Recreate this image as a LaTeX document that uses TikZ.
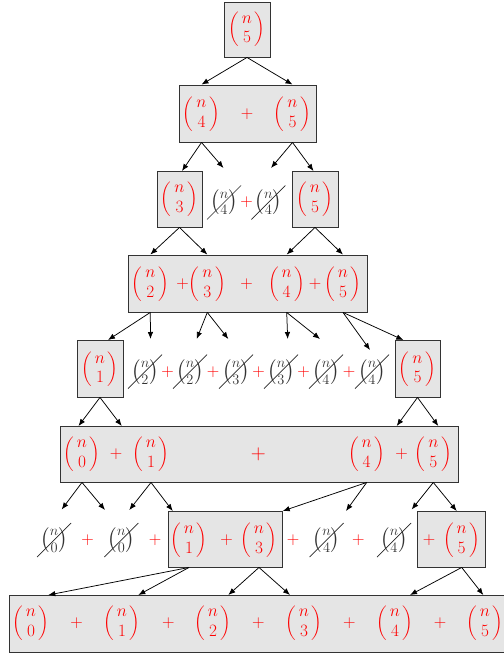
\documentclass[tikz,border=0pt]{standalone}
\usepackage{amsmath}
\usetikzlibrary{arrows.meta,calc}
\tikzset{
  box/.style={draw=black!80, fill=gray!20, line width=0.9pt, inner sep=0pt},
  rb/.style={text=red, inner sep=0pt, font=\fontsize{14.5}{15}\selectfont},
  cb/.style={text=black!80, inner sep=0pt, font=\fontsize{21}{22}\selectfont},
  pl/.style={text=red, inner sep=0pt, font=\fontsize{17}{18}\selectfont},
  plm/.style={text=red, inner sep=0pt, font=\fontsize{19}{20}\selectfont},
  bigpl/.style={text=red, inner sep=0pt, font=\fontsize{22}{23}\selectfont},
  arr/.style={-{Latex[length=7pt,width=5.5pt]}, line width=0.75pt},
  cx/.style={line width=0.7pt, draw=black!85},
}
\newcommand\bigpart[1]{\mbox{\fontsize{16.5}{17}\selectfont$#1$}}
\newcommand\rbin[1]{$\genfrac{(}{)}{0pt}{0}{\bigpart{\mkern3mu n\mkern3mu}}{\bigpart{#1}}$}
\newcommand\cbin[1]{$\tbinom{n}{#1}$}
\begin{document}
\begin{tikzpicture}[x=1pt,y=-1pt]
\useasboundingbox (0,0) rectangle (503,655);
% boxes
\node[box, minimum width=46pt, minimum height=55pt] (B1) at (247,29.5) {};
\node[box, minimum width=137pt, minimum height=57pt] (B2) at (247.5,113.5) {};
\node[box, minimum width=45pt, minimum height=56pt] (B3a) at (179.5,199) {};
\node[box, minimum width=46pt, minimum height=56pt] (B3b) at (315,199) {};
\node[box, minimum width=239pt, minimum height=57pt] (B4) at (247.5,283.5) {};
\node[box, minimum width=46pt, minimum height=57pt] (B5a) at (100,368.5) {};
\node[box, minimum width=45pt, minimum height=57pt] (B5b) at (417.5,368.5) {};
\node[box, minimum width=398pt, minimum height=56pt] (B6) at (259,454) {};
\node[box, minimum width=114pt, minimum height=56pt] (B7a) at (225,539) {};
\node[box, minimum width=68pt, minimum height=56pt] (B7b) at (451,539) {};
\node[box, minimum width=498pt, minimum height=57pt] (B8) at (258,623.5) {};
% row 1
\node[rb] (R15) at (247,29.5) {\rbin5};
% row 2
\node[rb] (R24) at (201.5,114) {\rbin4};
\node[plm] (P2) at (247,114) {$+$};
\node[rb] (R25) at (292.5,114) {\rbin5};
% row 3
\node[rb] (R33) at (179.5,199) {\rbin3};
\node[cb] (C34a) at (224,202.5) {\cbin4};
\node[pl] (P3) at (246.7,202.5) {$+$};
\node[cb] (C34b) at (268.3,202.5) {\cbin4};
\node[rb] (R35) at (315,199) {\rbin5};
% row 4
\node[rb] (R42) at (150.3,284) {\rbin2};
\node[pl] (P4a) at (182.7,284) {$+$};
\node[rb] (R43) at (207.3,284) {\rbin3};
\node[pl] (P4b) at (246.7,284) {$+$};
\node[rb] (R44) at (286.7,284) {\rbin4};
\node[pl] (P4c) at (315,284) {$+$};
\node[rb] (R45) at (343,284) {\rbin5};
% row 5
\node[rb] (R51) at (100,369.5) {\rbin1};
\node[cb] (C52a) at (145,371.7) {\cbin2};
\node[pl] (P5a) at (167.5,371.7) {$+$};
\node[cb] (C52b) at (190,371.7) {\cbin2};
\node[pl] (P5b) at (213,371.7) {$+$};
\node[cb] (C53a) at (236,371.7) {\cbin3};
\node[pl] (P5c) at (258.5,371.7) {$+$};
\node[cb] (C53b) at (281,371.7) {\cbin3};
\node[pl] (P5d) at (303.5,371.7) {$+$};
\node[cb] (C54a) at (326,371.7) {\cbin4};
\node[pl] (P5e) at (349,371.7) {$+$};
\node[cb] (C54b) at (372,371.7) {\cbin4};
\node[rb] (R55) at (417.5,369.5) {\rbin5};
% row 6
\node[rb] (R60) at (82,454) {\rbin0};
\node[plm] (P6a) at (116,454) {$+$};
\node[rb] (R61) at (151,454) {\rbin1};
\node[bigpl] (P6b) at (258.3,454) {$+$};
\node[rb] (R64) at (366.7,454) {\rbin4};
\node[plm] (P6c) at (401.7,454) {$+$};
\node[rb] (R65) at (433.3,454) {\rbin5};
% row 7
\node[cb] (C70a) at (54.2,540) {\cbin0};
\node[plm] (P7a) at (87.5,540) {$+$};
\node[cb] (C70b) at (121.3,540) {\cbin0};
\node[plm] (P7b) at (155,540) {$+$};
\node[rb] (R71) at (189,540) {\rbin1};
\node[plm] (P7c) at (226.7,540) {$+$};
\node[rb] (R73) at (259,540) {\rbin3};
\node[plm] (P7d) at (293,540) {$+$};
\node[cb] (C74a) at (326.7,540) {\cbin4};
\node[plm] (P7e) at (358.3,540) {$+$};
\node[cb] (C74b) at (394,540) {\cbin4};
\node[plm] (P7f) at (429,540) {$+$};
\node[rb] (R75) at (461.7,540) {\rbin5};
% row 8
\node[rb] (R80) at (31,623) {\rbin0};
\node[pl] (P8a) at (76.7,623) {$+$};
\node[rb] (R81) at (122,623) {\rbin1};
\node[pl] (P8b) at (168.3,623) {$+$};
\node[rb] (R82) at (213,623) {\rbin2};
\node[pl] (P8c) at (258.3,623) {$+$};
\node[rb] (R83) at (304,623) {\rbin3};
\node[pl] (P8d) at (349.3,623) {$+$};
\node[rb] (R84) at (395,623) {\rbin4};
\node[pl] (P8e) at (440,623) {$+$};
\node[rb] (R85) at (485,623) {\rbin5};
% cancel strokes
\foreach \c in {C34a,C34b,C52a,C52b,C53a,C53b,C54a,C54b,C70a,C70b,C74a,C74b}
  \draw[cx] ($(\c)+(-17,17)$) -- ($(\c)+(17,-17)$);
% arrow end points
\coordinate (e23a) at (182,171);
\coordinate (e23b) at (223.5,168);
\coordinate (e23c) at (271,168);
\coordinate (e23d) at (313.5,171);
\coordinate (e45a) at (108,340);
\coordinate (e45b) at (150.5,339);
\coordinate (e45c) at (196.7,339);
\coordinate (e45d) at (228.3,339);
\coordinate (e45e) at (287.7,339);
\coordinate (e45f) at (320,339);
\coordinate (e45g) at (370,350);
\coordinate (e45h) at (403.3,340);
\coordinate (e56a) at (78.5,426);
\coordinate (e56b) at (121.7,426);
\coordinate (e56c) at (396.7,426);
\coordinate (e56d) at (438.3,426);
\coordinate (e67a) at (61.7,509.5);
\coordinate (e67b) at (105,510);
\coordinate (e67c) at (129.3,510);
\coordinate (e67d) at (172.7,511);
\coordinate (e67e) at (282.7,511);
\coordinate (e67f) at (346,511);
\coordinate (e67g) at (411.7,509.5);
\coordinate (e67h) at (456.7,511);
\coordinate (e78a) at (48.3,595);
\coordinate (e78b) at (138.3,595);
\coordinate (e78c) at (228.3,595);
\coordinate (e78d) at (290,595);
\coordinate (e78e) at (410,595);
\coordinate (e78f) at (483.3,595);
% arrows
\draw[arr] (B1.south) -- (B2.north -| R24);
\draw[arr] (B1.south) -- (B2.north -| R25);
\draw[arr] (B2.south -| R24) -- (e23a);
\draw[arr] (B2.south -| R24) -- (e23b);
\draw[arr] (B2.south -| R25) -- (e23c);
\draw[arr] (B2.south -| R25) -- (e23d);
\draw[arr] (B3a.south) -- (B4.north -| R42);
\draw[arr] (B3a.south) -- (B4.north -| R43);
\draw[arr] (B3b.south) -- (B4.north -| R44);
\draw[arr] (B3b.south) -- (B4.north -| R45);
\draw[arr] (B4.south -| R42) -- (e45a);
\draw[arr] (B4.south -| R42) -- (e45b);
\draw[arr] (B4.south -| R43) -- (e45c);
\draw[arr] (B4.south -| R43) -- (e45d);
\draw[arr] (B4.south -| R44) -- (e45e);
\draw[arr] (B4.south -| R44) -- (e45f);
\draw[arr] (B4.south -| R45) -- (e45g);
\draw[arr] (B4.south -| R45) -- (e45h);
\draw[arr] (B5a.south) -- (e56a);
\draw[arr] (B5a.south) -- (e56b);
\draw[arr] (B5b.south) -- (e56c);
\draw[arr] (B5b.south) -- (e56d);
\draw[arr] (B6.south -| R60) -- (e67a);
\draw[arr] (B6.south -| R60) -- (e67b);
\draw[arr] (B6.south -| R61) -- (e67c);
\draw[arr] (B6.south -| R61) -- (e67d);
\draw[arr] (B6.south -| R64) -- (e67e);
\draw[arr] (B6.south -| R64) -- (e67f);
\draw[arr] (B6.south -| R65) -- (e67g);
\draw[arr] (B6.south -| R65) -- (e67h);
\draw[arr] (B7a.south -| R71) -- (e78a);
\draw[arr] (B7a.south -| R71) -- (e78b);
\draw[arr] (B7a.south -| R73) -- (e78c);
\draw[arr] (B7a.south -| R73) -- (e78d);
\draw[arr] (B7b.south -| R75) -- (e78e);
\draw[arr] (B7b.south -| R75) -- (e78f);
\end{tikzpicture}
\end{document}
